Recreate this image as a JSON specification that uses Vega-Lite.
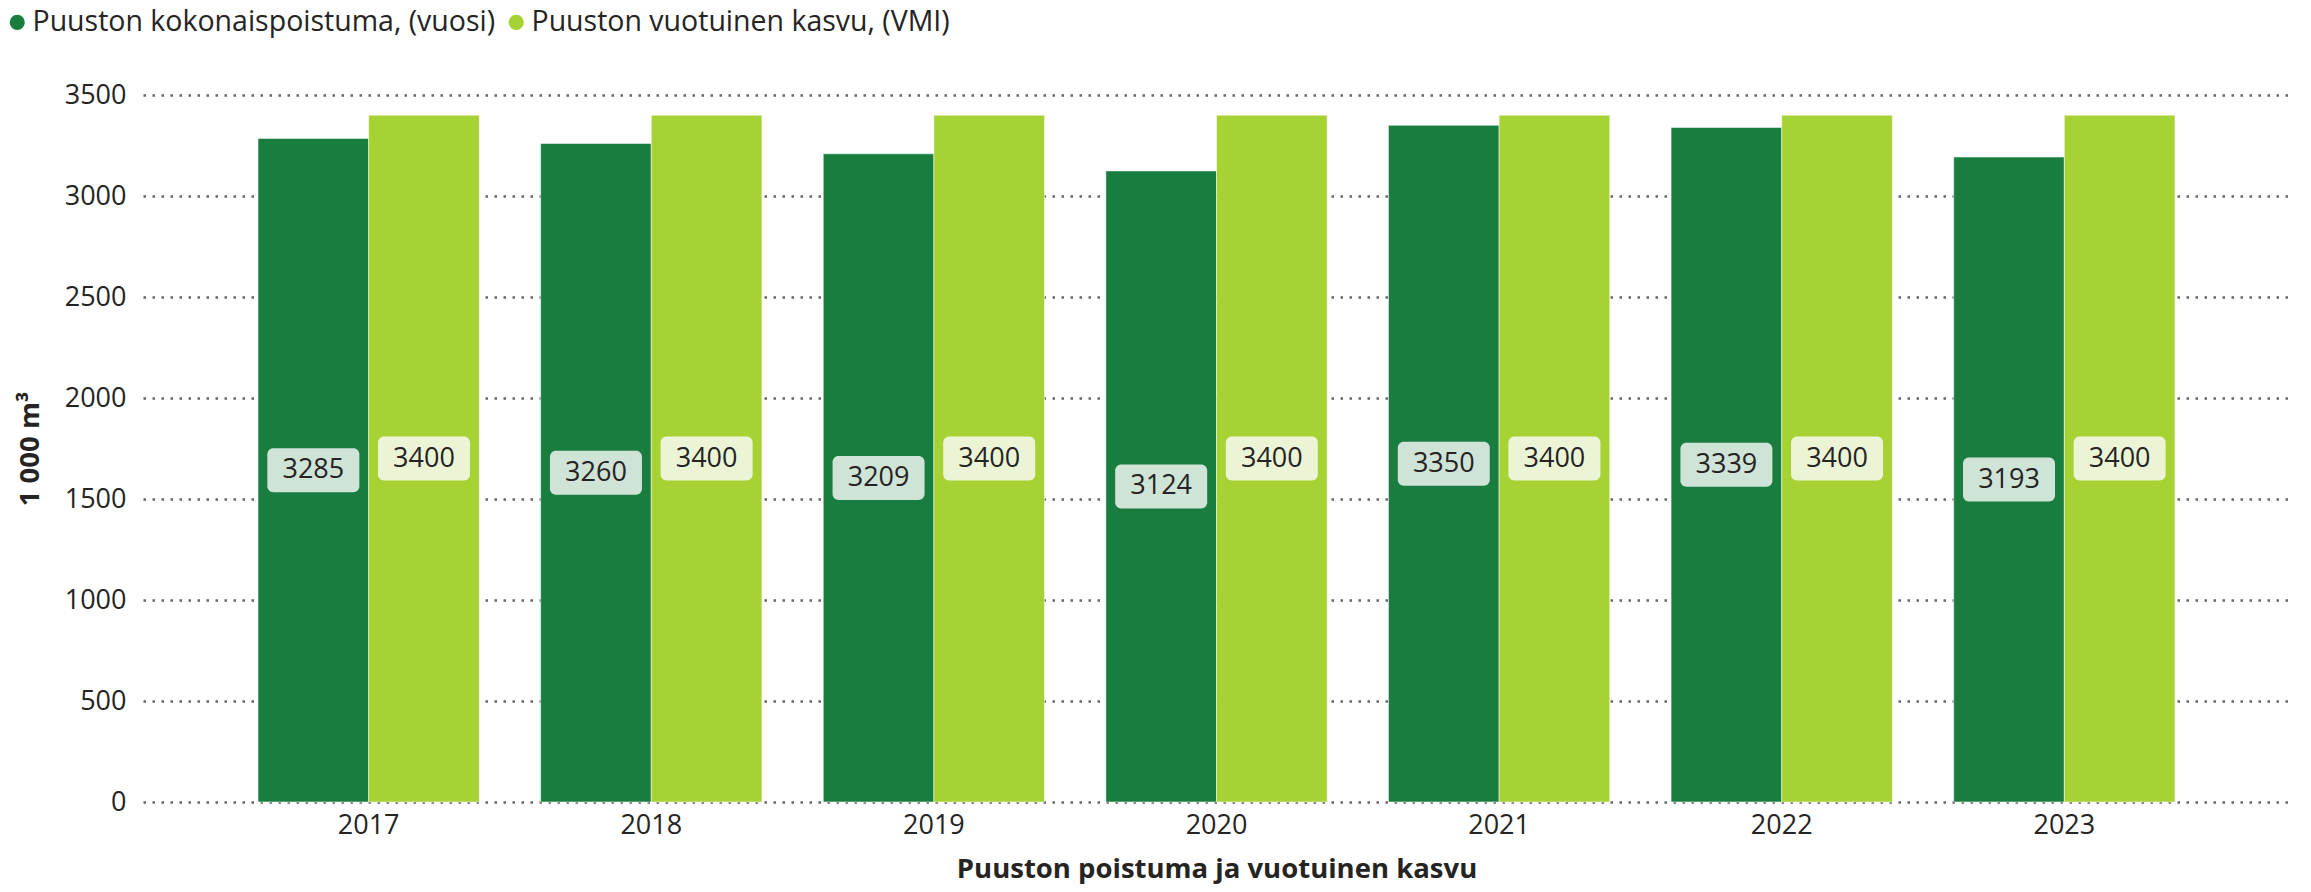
{
  "$schema": "https://vega.github.io/schema/vega-lite/v6.json",
  "width": 2147,
  "height": 707,
  "autosize": {"type": "none"},
  "padding": {"left": 143, "top": 95, "right": 21, "bottom": 90},
  "config": {"font": "Open Sans", "view": {"stroke": null}},
  "data": {"values": [
    {"year": "2017", "series": "Puuston kokonaispoistuma, (vuosi)", "value": 3285},
    {"year": "2017", "series": "Puuston vuotuinen kasvu, (VMI)", "value": 3400},
    {"year": "2018", "series": "Puuston kokonaispoistuma, (vuosi)", "value": 3260},
    {"year": "2018", "series": "Puuston vuotuinen kasvu, (VMI)", "value": 3400},
    {"year": "2019", "series": "Puuston kokonaispoistuma, (vuosi)", "value": 3209},
    {"year": "2019", "series": "Puuston vuotuinen kasvu, (VMI)", "value": 3400},
    {"year": "2020", "series": "Puuston kokonaispoistuma, (vuosi)", "value": 3124},
    {"year": "2020", "series": "Puuston vuotuinen kasvu, (VMI)", "value": 3400},
    {"year": "2021", "series": "Puuston kokonaispoistuma, (vuosi)", "value": 3350},
    {"year": "2021", "series": "Puuston vuotuinen kasvu, (VMI)", "value": 3400},
    {"year": "2022", "series": "Puuston kokonaispoistuma, (vuosi)", "value": 3339},
    {"year": "2022", "series": "Puuston vuotuinen kasvu, (VMI)", "value": 3400},
    {"year": "2023", "series": "Puuston kokonaispoistuma, (vuosi)", "value": 3193},
    {"year": "2023", "series": "Puuston vuotuinen kasvu, (VMI)", "value": 3400}
  ]},
  "encoding": {
    "x": {
      "field": "year", "type": "nominal",
      "scale": {"paddingInner": 0.217, "paddingOuter": 0.407},
      "axis": {
        "labelAngle": 0, "labelFontSize": 27, "labelColor": "#252423", "labelPadding": 10,
        "ticks": false, "domain": false,
        "title": "Puuston poistuma ja vuotuinen kasvu",
        "titleFontSize": 27.5, "titleFontWeight": "bold", "titleColor": "#252423", "titlePadding": 17
      }
    },
    "xOffset": {"field": "series", "type": "nominal", "sort": ["Puuston kokonaispoistuma, (vuosi)", "Puuston vuotuinen kasvu, (VMI)"]}
  },
  "layer": [
    {
      "mark": {"type": "bar", "stroke": "#ffffff", "strokeOpacity": 0.5, "strokeWidth": 1},
      "encoding": {
        "y": {
          "field": "value", "type": "quantitative",
          "scale": {"domain": [0, 3500]},
          "axis": {
            "values": [0, 500, 1000, 1500, 2000, 2500, 3000, 3500], "format": "d",
            "labelFontSize": 27, "labelColor": "#252423", "labelPadding": 17,
            "ticks": false, "domain": false,
            "grid": true, "gridColor": "#666666", "gridDash": [2.5, 6.5], "gridWidth": 2.5,
            "title": "1 000 m³", "titleFontSize": 27.5, "titleFontWeight": "bold", "titleColor": "#252423", "titlePadding": 20
          }
        },
        "color": {
          "field": "series", "type": "nominal",
          "sort": ["Puuston kokonaispoistuma, (vuosi)", "Puuston vuotuinen kasvu, (VMI)"],
          "scale": {"range": ["#1a7d40", "#a6d234"]},
          "legend": {
            "title": null, "orient": "none", "direction": "horizontal",
            "legendX": -140, "legendY": -87, "padding": 0,
            "symbolType": "circle", "symbolSize": 230, "symbolStrokeWidth": 0,
            "labelFontSize": 28.5, "labelColor": "#252423", "labelOffset": 1, "labelLimit": 0, "columnPadding": 6
          }
        }
      }
    },
    {
      "mark": {"type": "point", "filled": true, "opacity": 1, "size": 8464,
        "shape": "M-0.87,-0.478 L0.87,-0.478 A0.13,0.13 0 0 1 1,-0.348 L1,0.348 A0.13,0.13 0 0 1 0.87,0.478 L-0.87,0.478 A0.13,0.13 0 0 1 -1,0.348 L-1,-0.348 A0.13,0.13 0 0 1 -0.87,-0.478 Z"},
      "encoding": {
        "y": {"field": "value", "type": "quantitative", "scale": {"domain": [0, 7000]}, "axis": null},
        "fill": {"field": "series", "type": "nominal",
          "sort": ["Puuston kokonaispoistuma, (vuosi)", "Puuston vuotuinen kasvu, (VMI)"],
          "scale": {"range": ["#cfe3d7", "#ebf5d6"]}, "legend": null}
      }
    },
    {
      "mark": {"type": "text", "fontSize": 27, "color": "#252423", "baseline": "middle", "align": "center"},
      "encoding": {
        "y": {"field": "value", "type": "quantitative", "scale": {"domain": [0, 7000]}, "axis": null},
        "text": {"field": "value", "type": "quantitative", "format": "d"}
      }
    }
  ],
  "resolve": {"scale": {"y": "independent"}}
}
